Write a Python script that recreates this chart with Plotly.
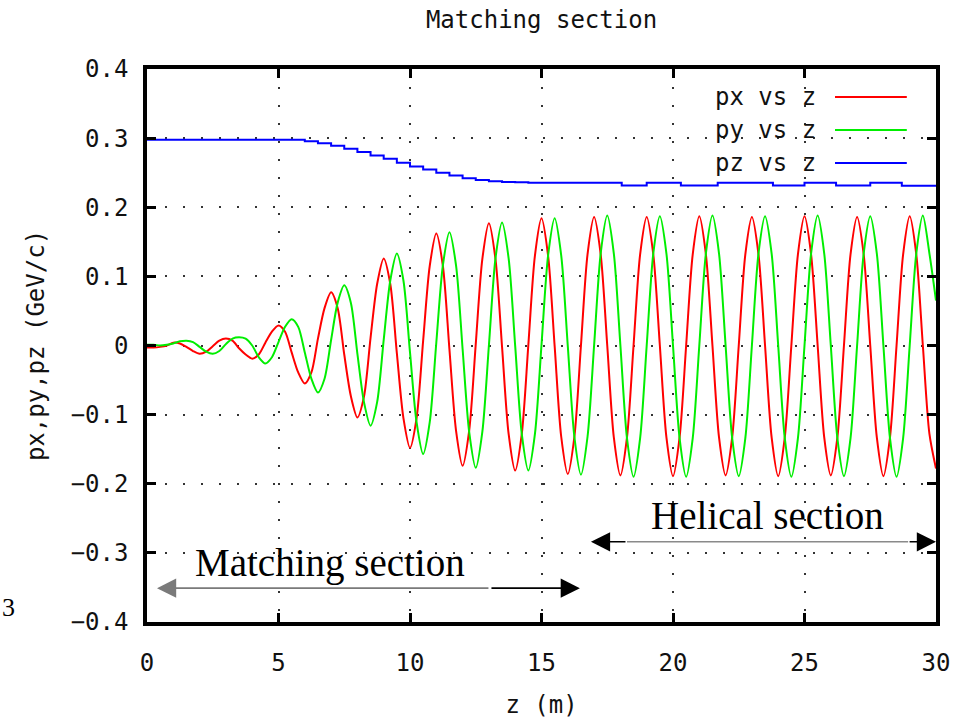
import plotly.graph_objects as go

# ---- data -------------------------------------------------------------
z_m = [
    0.0, 0.25, 0.5, 0.75, 1.0, 1.25, 1.5, 1.75,
    2.0, 2.25, 2.5, 2.75, 3.0, 3.25, 3.5, 3.75,
    4.0, 4.25, 4.5, 4.75, 5.0, 5.25, 5.5, 5.75,
    6.0, 6.25, 6.5, 6.75, 7.0, 7.25, 7.5, 7.75,
    8.0, 8.25, 8.5, 8.75, 9.0, 9.25, 9.5, 9.75,
    10.0, 10.25, 10.5, 10.75, 11.0, 11.25, 11.5, 11.75,
    12.0, 12.25, 12.5, 12.75, 13.0, 13.25, 13.5, 13.75,
    14.0, 14.25, 14.5, 14.75, 15.0, 15.25, 15.5, 15.75,
    16.0, 16.25, 16.5, 16.75, 17.0, 17.25, 17.5, 17.75,
    18.0, 18.25, 18.5, 18.75, 19.0, 19.25, 19.5, 19.75,
    20.0, 20.25, 20.5, 20.75, 21.0, 21.25, 21.5, 21.75,
    22.0, 22.25, 22.5, 22.75, 23.0, 23.25, 23.5, 23.75,
    24.0, 24.25, 24.5, 24.75, 25.0, 25.25, 25.5, 25.75,
    26.0, 26.25, 26.5, 26.75, 27.0, 27.25, 27.5, 27.75,
    28.0, 28.25, 28.5, 28.75, 29.0, 29.25, 29.5, 29.75,
    30.0,
]

px_gev = [
    -0.003, -0.003, -0.002, 0.000, 0.004, 0.003, -0.002, -0.008,
    -0.012, -0.009, -0.001, 0.007, 0.010, 0.007, -0.004, -0.013,
    -0.019, -0.013, 0.004, 0.020, 0.029, 0.020, -0.010, -0.039,
    -0.055, -0.039, 0.010, 0.054, 0.077, 0.054, -0.013, -0.073,
    -0.104, -0.074, 0.011, 0.089, 0.126, 0.089, -0.011, -0.105,
    -0.148, -0.105, 0.007, 0.115, 0.162, 0.115, -0.006, -0.123,
    -0.174, -0.123, 0.002, 0.125, 0.177, 0.125, -0.002, -0.128,
    -0.181, -0.128, 0.001, 0.130, 0.184, 0.130, -0.001, -0.132,
    -0.186, -0.132, 0.000, 0.132, 0.186, 0.132, 0.000, -0.133,
    -0.188, -0.133, 0.000, 0.132, 0.186, 0.132, 0.000, -0.133,
    -0.189, -0.133, 0.000, 0.132, 0.187, 0.132, 0.000, -0.133,
    -0.188, -0.133, 0.000, 0.132, 0.186, 0.132, 0.000, -0.133,
    -0.189, -0.133, 0.000, 0.132, 0.187, 0.132, 0.000, -0.133,
    -0.188, -0.133, 0.000, 0.132, 0.186, 0.132, 0.000, -0.133,
    -0.189, -0.133, 0.000, 0.132, 0.187, 0.132, 0.000, -0.128,
    -0.178,
]

py_gev = [
    0.001, 0.001, 0.000, 0.001, 0.003, 0.006, 0.007, 0.005,
    -0.002, -0.009, -0.012, -0.008, 0.002, 0.010, 0.012, 0.010,
    0.000, -0.017, -0.026, -0.017, 0.005, 0.027, 0.038, 0.027,
    -0.010, -0.048, -0.068, -0.048, 0.008, 0.062, 0.087, 0.062,
    -0.012, -0.082, -0.116, -0.082, 0.008, 0.094, 0.133, 0.094,
    -0.010, -0.111, -0.157, -0.111, 0.004, 0.116, 0.164, 0.116,
    -0.005, -0.125, -0.177, -0.125, 0.000, 0.126, 0.178, 0.126,
    -0.001, -0.128, -0.181, -0.128, 0.001, 0.130, 0.184, 0.130,
    -0.001, -0.132, -0.187, -0.132, 0.000, 0.133, 0.188, 0.133,
    0.000, -0.134, -0.190, -0.134, 0.000, 0.133, 0.187, 0.133,
    0.000, -0.134, -0.190, -0.134, 0.000, 0.133, 0.188, 0.133,
    0.000, -0.134, -0.189, -0.134, 0.000, 0.133, 0.187, 0.133,
    0.000, -0.134, -0.190, -0.134, 0.000, 0.133, 0.188, 0.133,
    0.000, -0.134, -0.189, -0.134, 0.000, 0.133, 0.187, 0.133,
    0.000, -0.134, -0.190, -0.134, 0.000, 0.133, 0.188, 0.133,
    0.065,
]

pz_z_m = [
    0.0, 5.6, 6.0, 6.5, 7.0, 7.5, 8.0, 8.5, 9.0, 9.5,
    10.0, 10.5, 11.0, 11.5, 12.0, 12.5, 13.0, 13.5, 14.0, 14.5,
    15.0, 17.0, 18.05, 19.0, 20.3, 21.7, 23.8, 25.0, 26.2, 27.5,
    28.7, 30.0,
]
pz_gev = [
    0.2975, 0.2975, 0.2955, 0.2925, 0.2890, 0.2845, 0.2800, 0.2750, 0.2700, 0.2645,
    0.2590, 0.2545, 0.2500, 0.2460, 0.2420, 0.2395, 0.2375, 0.2365, 0.2360, 0.2355,
    0.2355, 0.2355, 0.2315, 0.2355, 0.2315, 0.2355, 0.2315, 0.2355, 0.2315, 0.2355,
    0.2310, 0.2310,
]

x_ticks = [0, 5, 10, 15, 20, 25, 30]
x_tick_labels = ["0", "5", "10", "15", "20", "25", "30"]
y_ticks = [-0.4, -0.3, -0.2, -0.1, 0.0, 0.1, 0.2, 0.3, 0.4]
y_tick_labels = ["\u22120.4", "\u22120.3", "\u22120.2", "\u22120.1", "0",
                 "0.1", "0.2", "0.3", "0.4"]

series_names = ["px vs z", "py vs z", "pz vs z"]
series_colors = ["#ff0000", "#00ee00", "#0000ff"]

# ---- styling ----------------------------------------------------------
MONO = "DejaVu Sans Mono"
SERIF = "Liberation Serif"
INK = "#111111"

fig = go.Figure()
fig.add_trace(go.Scatter(x=z_m, y=px_gev, mode="lines", name=series_names[0],
                         line=dict(color=series_colors[0], width=2, shape="spline",
                                   smoothing=0.8)))
fig.add_trace(go.Scatter(x=z_m, y=py_gev, mode="lines", name=series_names[1],
                         line=dict(color=series_colors[1], width=2, shape="spline",
                                   smoothing=0.8)))
fig.add_trace(go.Scatter(x=pz_z_m, y=pz_gev, mode="lines", name=series_names[2],
                         line=dict(color=series_colors[2], width=2, shape="hv")))

axis_common = dict(
    showline=True, linecolor="black", linewidth=3.5, mirror="ticks",
    ticks="inside", ticklen=9, tickwidth=3, tickcolor="black",
    showgrid=True, gridcolor="#333333", gridwidth=1.8, griddash="2px,16px",
    zeroline=False, tickfont=dict(family=MONO, size=24, color=INK),
    automargin=False,
)

fig.update_xaxes(range=[0, 30], tickmode="array", tickvals=x_ticks,
                 ticktext=x_tick_labels, ticklabelstandoff=16,
                 title=dict(text="z (m)", font=dict(family=MONO, size=24, color=INK),
                            standoff=22),
                 **axis_common)
fig.update_yaxes(range=[-0.4, 0.4], tickmode="array", tickvals=y_ticks,
                 ticktext=y_tick_labels, ticklabelstandoff=10,
                 title=dict(text="px,py,pz (GeV/c)",
                            font=dict(family=MONO, size=24, color=INK), standoff=20),
                 **axis_common)

# legend in gnuplot style: label on the left, line sample on the right
legend_rows_y = [0.9494, 0.8897, 0.8300]
annotations = []
shapes = []
for name, color, yy in zip(series_names, series_colors, legend_rows_y):
    annotations.append(dict(xref="paper", yref="paper", x=0.8504, y=yy,
                            xanchor="right", yanchor="middle", text=name,
                            showarrow=False,
                            font=dict(family=MONO, size=24, color=INK)))
    shapes.append(dict(type="line", xref="paper", yref="paper",
                       x0=0.872, x1=0.963, y0=yy, y1=yy,
                       line=dict(color=color, width=2)))

# section markers
y_helical = -0.284
y_matching = -0.351
arrow_style = dict(showarrow=True, arrowhead=2, arrowsize=2.4, standoff=0,
                   axref="x", ayref="y", text="")
annotations += [
    dict(x=16.88, y=y_helical, ax=18.25, ay=y_helical, arrowcolor="black",
         arrowwidth=1.6, **arrow_style),
    dict(x=30.0, y=y_helical, ax=28.94, ay=y_helical, arrowcolor="black",
         arrowwidth=1.6, **arrow_style),
    dict(x=0.38, y=y_matching, ax=13.04, ay=y_matching, arrowcolor="#7a7a7a",
         arrowwidth=1.6, **arrow_style),
    dict(x=16.46, y=y_matching, ax=13.04, ay=y_matching, arrowcolor="black",
         arrowwidth=1.6, **arrow_style),
    dict(x=23.61, y=-0.246, text="Helical section", showarrow=False,
         xanchor="center", yanchor="middle",
         font=dict(family=SERIF, size=39, color="black")),
    dict(x=6.96, y=-0.3145, text="Matching section", showarrow=False,
         xanchor="center", yanchor="middle",
         font=dict(family=SERIF, size=39, color="black")),
    dict(xref="paper", yref="paper", x=-0.176, y=0.027, text="3",
         showarrow=False, xanchor="center", yanchor="middle",
         font=dict(family=SERIF, size=26, color="black")),
]
shapes.append(dict(type="line", xref="x", yref="y", x0=18.25, x1=28.94,
                   y0=y_helical, y1=y_helical,
                   line=dict(color="#8a8a8a", width=1.6)))

fig.update_layout(
    width=970, height=719, autosize=False,
    margin=dict(l=147, r=34, t=69, b=97, autoexpand=False),
    paper_bgcolor="white", plot_bgcolor="white",
    showlegend=False,
    title=dict(text="Matching section", x=0.5, xref="paper", xanchor="center",
               y=1 - 20 / 719, yref="container", yanchor="middle",
               font=dict(family=MONO, size=24, color=INK)),
    annotations=annotations,
    shapes=shapes,
)

fig.write_html("out.html")
